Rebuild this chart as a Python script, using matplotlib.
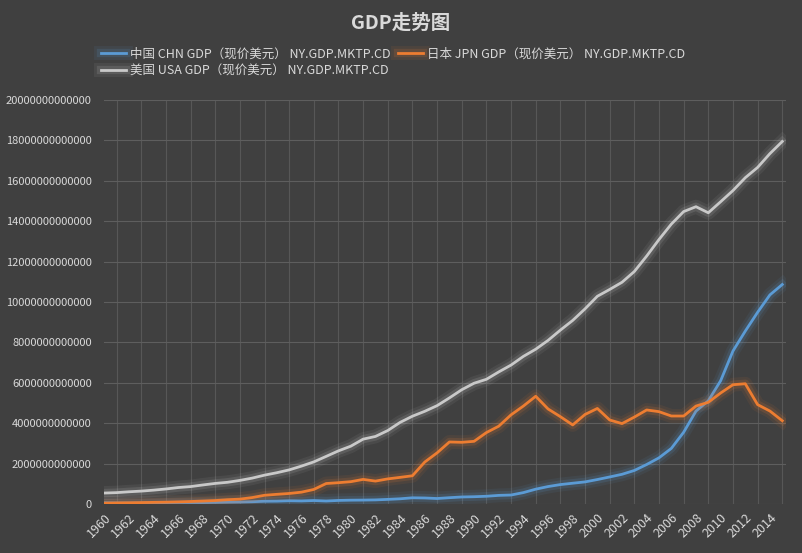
import numpy as np
import matplotlib
matplotlib.use("Agg")
import matplotlib.pyplot as plt
import matplotlib.patheffects as pe

plt.rcParams['font.family'] = ['Noto Sans CJK SC', 'DejaVu Sans']

years = list(range(1960, 2016))

# GDP in trillions of current US$
china = [0.0597, 0.0500, 0.0472, 0.0507, 0.0597, 0.0704, 0.0767, 0.0729, 0.0700, 0.0787,
         0.0915, 0.0986, 0.1122, 0.1368, 0.1422, 0.1611, 0.1517, 0.1721, 0.1485, 0.1766,
         0.1894, 0.1941, 0.2033, 0.2287, 0.2580, 0.3074, 0.2985, 0.2720, 0.3123, 0.3478,
         0.3609, 0.3834, 0.4269, 0.4447, 0.5643, 0.7343, 0.8637, 0.9616, 1.0290, 1.0940,
         1.2113, 1.3394, 1.4706, 1.6603, 1.9553, 2.2860, 2.7521, 3.5522, 4.5982, 5.1100,
         6.1006, 7.5726, 8.5605, 9.4905, 10.3540, 10.8664]
japan = [0.0443, 0.0537, 0.0607, 0.0695, 0.0817, 0.0909, 0.1056, 0.1237, 0.1469, 0.1720,
         0.2127, 0.2404, 0.3181, 0.4320, 0.4795, 0.5218, 0.5862, 0.7214, 1.0139, 1.0555,
         1.1054, 1.2182, 1.1348, 1.2434, 1.3188, 1.3987, 2.0785, 2.5327, 3.0716, 3.0545,
         3.1037, 3.5369, 3.8527, 4.4148, 4.8500, 5.3340, 4.7060, 4.3240, 3.9150, 4.4330,
         4.7310, 4.1600, 3.9810, 4.3030, 4.6560, 4.5720, 4.3570, 4.3560, 4.8490, 5.0350,
         5.4950, 5.9060, 5.9540, 4.9200, 4.6020, 4.1230]
usa = [0.543, 0.563, 0.605, 0.638, 0.686, 0.744, 0.815, 0.862, 0.943, 1.019,
       1.075, 1.168, 1.282, 1.429, 1.549, 1.689, 1.877, 2.086, 2.357, 2.632,
       2.863, 3.211, 3.345, 3.638, 4.041, 4.347, 4.590, 4.870, 5.253, 5.658,
       5.980, 6.174, 6.539, 6.879, 7.309, 7.664, 8.100, 8.609, 9.089, 9.661,
       10.285, 10.622, 10.978, 11.511, 12.275, 13.094, 13.856, 14.478, 14.719, 14.419,
       14.964, 15.518, 16.155, 16.663, 17.348, 17.947]

labels = ['中国 CHN GDP（现价美元） NY.GDP.MKTP.CD',
          '日本 JPN GDP（现价美元） NY.GDP.MKTP.CD',
          '美国 USA GDP（现价美元） NY.GDP.MKTP.CD']
colors = ['#5B9BD5', '#ED7D31', '#C9C9C9']

bg = '#404040'
txt = '#D9D9D9'

fig = plt.figure(figsize=(8.02, 5.53), dpi=100)
fig.patch.set_facecolor(bg)
ax = fig.add_axes([0.13, 0.0886, 0.85, 0.7305])
ax.set_facecolor(bg)

series = [china, japan, usa]
lines = []
for vals, lab, c in zip(series, labels, colors):
    y = np.array(vals) * 1e12
    ln, = ax.plot(years, y, color=c, lw=2.0, label=lab, solid_joinstyle='round',
                  path_effects=[pe.Stroke(linewidth=10, foreground=c, alpha=0.08),
                                pe.Stroke(linewidth=6, foreground=c, alpha=0.15),
                                pe.Normal()])
    lines.append(ln)

ax.set_ylim(0, 2e13)
ax.set_xlim(1960, 2015.3)
yt = np.arange(0, 2.01e13, 2e12)
ax.set_yticks(yt)
ax.set_yticklabels(['%d' % v for v in yt], color=txt, fontsize=8)
ax.set_xticks(range(1960, 2016, 2))
ax.set_xticklabels([str(v) for v in range(1960, 2016, 2)], rotation=45,
                   color=txt, fontsize=9, ha='right', rotation_mode='anchor')
ax.set_xticks(range(1960, 2016), minor=True)
ax.tick_params(which='both', length=0)
ax.tick_params(axis='y', pad=9)
ax.tick_params(axis='x', pad=5)
ax.grid(True, which='major', axis='y', color='#5E5E5E', lw=0.8)
ax.grid(True, which='minor', axis='x', color='#575757', lw=0.8)
ax.set_axisbelow(True)
for s in ax.spines.values():
    s.set_visible(False)

fig.text(0.5, 0.958, 'GDP走势图', ha='center', va='center', color=txt,
         fontsize=14, fontweight='bold')

# column-major fill: order so rows read China, Japan / USA
order = [0, 2, 1]
fig.legend([lines[i] for i in order], [labels[i] for i in order],
           loc='center', bbox_to_anchor=(0.49, 0.887), ncol=2,
           frameon=False, fontsize=9, labelcolor=txt, handlelength=2.0,
           handletextpad=0.3, columnspacing=0.6, labelspacing=0.35)

fig.savefig('out.png', dpi=100, facecolor=bg)
